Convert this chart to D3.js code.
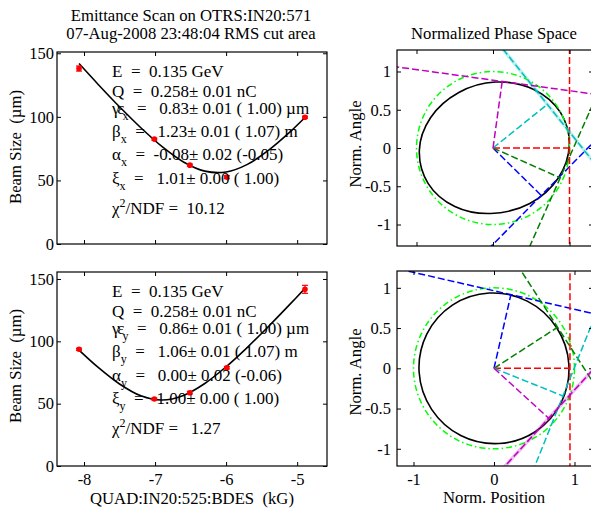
<!DOCTYPE html>
<html lang="en">
<head>
<meta charset="UTF-8">
<title>Emittance Scan on OTRS:IN20:571</title>
<script src="https://d3js.org/d3.v7.min.js"></script>
<style>
  body { margin: 0; background: #fff; }
  svg { display: block; font-family: "Liberation Serif", "Times New Roman", serif; }
  text { white-space: pre; fill: #000; }
</style>
</head>
<body>
<svg id="chart" width="591" height="510"></svg>
<script>
// quad settings (kG) and measured beam sizes (um) with errors
const quadValues = [-8.07, -7.01, -6.51, -5.99, -4.89];
const sizeX = [138.0, 82.5, 62.0, 52.6, 99.7];
const errX  = [2.0, 0.8, 0.8, 1.2, 0.8];
const sizeY = [93.6, 53.7, 58.8, 78.8, 141.7];
const errY  = [0.8, 0.8, 1.0, 1.0, 3.2];

// fitted beam size curves
const fitQuad = [-8.07, -7.8, -7.5, -7.2, -6.9, -6.6, -6.3, -6.0, -5.7, -5.4, -5.1, -4.89];
const fitX = [141.9, 125.5, 107.9, 91.4, 76.5, 64.5, 57.3, 56.6, 62.6, 73.9, 88.2, 99.5];
const fitY = [93.0, 79.1, 65.8, 56.3, 52.9, 56.6, 66.2, 79.6, 95.2, 112.1, 129.8, 142.5];

// tick values
const quadTicks = [-8, -7, -6, -5];
const sizeTicks = [0, 50, 100, 150];
const normTicksX = [-1, 0, 1];
const normTicksY = [-1, -0.5, 0, 0.5, 1];

// normalized phase space: foot points of each measurement line (b, g, r, c, m)
const lineColors = ["#0000ff", "#008000", "#ff0000", "#00bfbf", "#bf00bf"];
const feetX = [[0.63, -0.62], [0.878, -0.39], [1.0, 0.0], [0.71, 0.57], [0.12, 0.87]];
const feetY = [[0.21, 0.915], [0.79, 0.51], [0.944, 0.0], [0.857, -0.344], [0.68, -0.62]];
const bandX = [3];   // lines drawn with a light band
const bandY = [4];
const designRadius = 1;

const ellipseX = [[0.997, 0.04], [0.881, 0.465], [0.533, 0.765], [0.03, 0.862], [-0.447, 0.725], [-0.817, 0.395],
                  [-0.963, -0.03], [-0.847, -0.465], [-0.499, -0.765], [-0.03, -0.856], [0.481, -0.725], [0.851, -0.395]];
const ellipseY = [[0.93, 0.05], [0.775, 0.51], [0.413, 0.835], [-0.06, 0.935], [-0.517, 0.785], [-0.835, 0.425],
                  [-0.93, -0.05], [-0.775, -0.51], [-0.413, -0.835], [0.06, -0.935], [0.517, -0.785], [0.835, -0.425]];

// fit results text
const statsX = [
  [{t: "E  =  0.135 GeV"}],
  [{t: "Q  =  0.258\u00b1 0.01 nC"}],
  [{t: "\u03b3\u03b5", ls: -2}, {t: "x", k: "sub"}, {t: "  =   0.83\u00b1 0.01 ( 1.00) \u00b5m"}],
  [{t: "\u03b2"}, {t: "x", k: "sub"}, {t: "  =   1.23\u00b1 0.01 ( 1.07) m"}],
  [{t: "\u03b1"}, {t: "x", k: "sub"}, {t: "  =  -0.08\u00b1 0.02 (-0.05)"}],
  [{t: "\u03be"}, {t: "x", k: "sub"}, {t: "  =   1.01\u00b1 0.00 ( 1.00)"}],
  [{t: "\u03c7"}, {t: "2", k: "sup"}, {t: "/NDF =  10.12"}]
];
const statsY = [
  [{t: "E  =  0.135 GeV"}],
  [{t: "Q  =  0.258\u00b1 0.01 nC"}],
  [{t: "\u03b3\u03b5", ls: -2}, {t: "y", k: "sub"}, {t: "  =   0.86\u00b1 0.01 ( 1.00) \u00b5m"}],
  [{t: "\u03b2"}, {t: "y", k: "sub"}, {t: "  =   1.06\u00b1 0.01 ( 1.07) m"}],
  [{t: "\u03b1"}, {t: "y", k: "sub"}, {t: "  =   0.00\u00b1 0.02 (-0.06)"}],
  [{t: "\u03be"}, {t: "y", k: "sub"}, {t: "  =   1.00\u00b1 0.00 ( 1.00)"}],
  [{t: "\u03c7"}, {t: "2", k: "sup"}, {t: "/NDF =   1.27"}]
];

const svg = d3.select("#chart");

function makePanel(box, xDomain, yDomain, id) {
  const x = d3.scaleLinear().domain(xDomain).range([box.left, box.right]);
  const y = d3.scaleLinear().domain(yDomain).range([box.bottom, box.top]);
  svg.append("clipPath").attr("id", id).append("rect")
    .attr("x", box.left).attr("y", box.top)
    .attr("width", box.right - box.left).attr("height", box.bottom - box.top);
  return {x, y, box, id};
}

// axes with inward ticks on all four sides
function drawAxes(p, xTicks, yTicks, showX, padY) {
  const b = p.box;
  const fmt = d => String(d);
  const style = g => {
    g.select(".domain").remove();
    g.selectAll("line").attr("stroke", "#000");
    g.selectAll("text").attr("font-size", 16.5).attr("font-family", '"Liberation Serif", serif').attr("fill", "#000");
  };
  svg.append("g").attr("transform", `translate(0,${b.bottom})`)
    .call(d3.axisBottom(p.x).tickValues(xTicks).tickSizeInner(-4).tickSizeOuter(0).tickPadding(7)
      .tickFormat(showX ? fmt : () => ""))
    .call(style);
  svg.append("g").attr("transform", `translate(0,${b.top})`)
    .call(d3.axisTop(p.x).tickValues(xTicks).tickSizeInner(-4).tickSizeOuter(0).tickFormat(() => ""))
    .call(style);
  svg.append("g").attr("transform", `translate(${b.left},0)`)
    .call(d3.axisLeft(p.y).tickValues(yTicks).tickSizeInner(-4).tickSizeOuter(0).tickPadding(padY).tickFormat(fmt))
    .call(style);
  svg.append("g").attr("transform", `translate(${b.right},0)`)
    .call(d3.axisRight(p.y).tickValues(yTicks).tickSizeInner(-4).tickSizeOuter(0).tickFormat(() => ""))
    .call(style);
  svg.append("rect")
    .attr("x", b.left).attr("y", b.top)
    .attr("width", b.right - b.left).attr("height", b.bottom - b.top)
    .attr("fill", "none").attr("stroke", "#000").attr("stroke-width", 1.2);
}

function drawScan(p, sizes, errs, fit) {
  const g = svg.append("g").attr("clip-path", `url(#${p.id})`);
  const line = d3.line().x(d => p.x(d[0])).y(d => p.y(d[1])).curve(d3.curveCatmullRom);
  g.append("path").datum(fitQuad.map((q, i) => [q, fit[i]]))
    .attr("d", line).attr("fill", "none").attr("stroke", "#000").attr("stroke-width", 1.6);
  quadValues.forEach((q, i) => {
    const cx = p.x(q), lo = p.y(sizes[i] - errs[i]), hi = p.y(sizes[i] + errs[i]);
    g.append("line").attr("x1", cx).attr("x2", cx).attr("y1", lo).attr("y2", hi)
      .attr("stroke", "#ff0000").attr("stroke-width", 1.2);
    [lo, hi].forEach(yy => g.append("line").attr("x1", cx - 3).attr("x2", cx + 3).attr("y1", yy).attr("y2", yy)
      .attr("stroke", "#ff0000").attr("stroke-width", 1.2));
    g.append("circle").attr("cx", cx).attr("cy", p.y(sizes[i])).attr("r", 2.8).attr("fill", "#ff0000");
  });
}

function drawPhase(p, feet, ellipse, bands) {
  const g = svg.append("g").attr("clip-path", `url(#${p.id})`);
  g.append("path").datum(ellipse)
    .attr("d", d3.line().x(d => p.x(d[0])).y(d => p.y(d[1])).curve(d3.curveCatmullRomClosed))
    .attr("fill", "none").attr("stroke", "#000").attr("stroke-width", 1.6);
  g.append("ellipse")
    .attr("cx", p.x(0)).attr("cy", p.y(0))
    .attr("rx", p.x(designRadius) - p.x(0)).attr("ry", p.y(0) - p.y(designRadius))
    .attr("fill", "none").attr("stroke", "#00ff00").attr("stroke-width", 1.5)
    .attr("stroke-dasharray", "6,3,1.5,3");
  feet.forEach((f, i) => {
    const r = Math.hypot(f[0], f[1]);
    const ux = -f[1] / r, uy = f[0] / r, L = 4;
    const a = [f[0] - L * ux, f[1] - L * uy], b = [f[0] + L * ux, f[1] + L * uy];
    if (bands.includes(i)) {
      g.append("line").attr("x1", p.x(a[0])).attr("y1", p.y(a[1])).attr("x2", p.x(b[0])).attr("y2", p.y(b[1]))
        .attr("stroke", lineColors[i]).attr("stroke-opacity", 0.25).attr("stroke-width", 3.5);
    }
    g.append("line").attr("x1", p.x(a[0])).attr("y1", p.y(a[1])).attr("x2", p.x(b[0])).attr("y2", p.y(b[1]))
      .attr("stroke", lineColors[i]).attr("stroke-width", 1.5).attr("stroke-dasharray", "7,3");
    g.append("line").attr("x1", p.x(0)).attr("y1", p.y(0)).attr("x2", p.x(f[0])).attr("y2", p.y(f[1]))
      .attr("stroke", lineColors[i]).attr("stroke-width", 1.5).attr("stroke-dasharray", "7,3");
  });
}

function drawStats(rows, x0, baselines) {
  rows.forEach((segs, i) => {
    const t = svg.append("text").attr("x", x0).attr("y", baselines[i]).attr("font-size", 17);
    let shift = 0;
    segs.forEach(s => {
      const ts = t.append("tspan").text(s.t);
      let target = 0;
      if (s.k === "sub") { target = 6; ts.attr("font-size", 12); }
      if (s.k === "sup") { target = -7; ts.attr("font-size", 12); }
      if (target !== shift) { ts.attr("dy", target - shift); shift = target; }
      if (s.ls) ts.attr("letter-spacing", s.ls);
    });
  });
}

const pTL = makePanel({left: 57, right: 327, top: 52, bottom: 244}, [-8.38, -4.58], [0, 151], "clipTL");
const pBL = makePanel({left: 57, right: 327, top: 272, bottom: 466}, [-8.38, -4.58], [0, 155.6], "clipBL");
const pTR = makePanel({left: 397, right: 593, top: 50, bottom: 246}, [-1.255, 1.307], [-1.281, 1.281], "clipTR");
const pBR = makePanel({left: 397, right: 593, top: 271, bottom: 466}, [-1.205, 1.230], [-1.214, 1.209], "clipBR");

drawScan(pTL, sizeX, errX, fitX);
drawScan(pBL, sizeY, errY, fitY);
drawPhase(pTR, feetX, ellipseX, bandX);
drawPhase(pBR, feetY, ellipseY, bandY);

drawAxes(pTL, quadTicks, sizeTicks, false, 3);
drawAxes(pBL, quadTicks, sizeTicks, true, 3);
drawAxes(pTR, normTicksX, normTicksY, false, 6);
drawAxes(pBR, normTicksX, normTicksY, true, 6);

drawStats(statsX, 112, [77, 97, 114, 137, 160, 184, 214]);
drawStats(statsY, 112, [297, 317, 334, 357, 381, 404, 434]);

// titles and axis labels
const label = (txt, x, y, rot) => {
  const t = svg.append("text").attr("text-anchor", "middle").attr("font-size", 16.7).text(txt);
  if (rot) t.attr("transform", `translate(${x},${y}) rotate(-90)`);
  else t.attr("x", x).attr("y", y);
};
label("Emittance Scan on OTRS:IN20:571", 191, 21);
label("07-Aug-2008 23:48:04 RMS cut area", 191, 39);
label("Normalized Phase Space", 494, 39);
label("Beam Size  (\u00b5m)", 21, 147, true);
label("Beam Size  (\u00b5m)", 21, 366, true);
label("Norm. Angle", 361, 144, true);
label("Norm. Angle", 361, 372, true);
label("QUAD:IN20:525:BDES  (kG)", 192, 504);
label("Norm. Position", 494, 503);
</script>
</body>
</html>
